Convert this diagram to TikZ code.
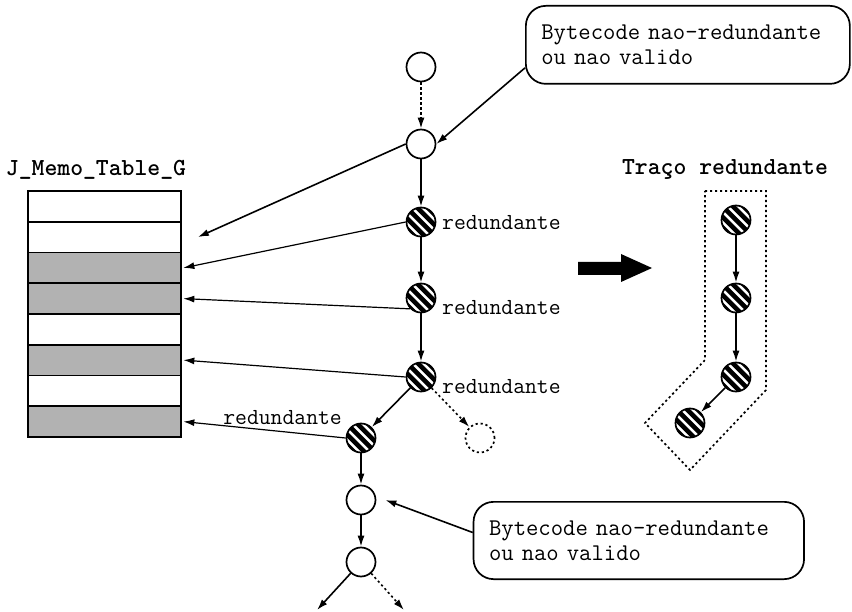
\documentclass[tikz,border=0pt]{standalone}
\usepackage{fontspec}
\usetikzlibrary{arrows.meta}

\tikzset{
  basenode/.style={circle, draw, line width=1.7pt, minimum size=29pt, inner sep=0pt},
  plainnode/.style={basenode, fill=white},
  ghostnode/.style={basenode, dash pattern=on 2.2pt off 2.8pt},
  hatchnode/.style={basenode, fill=white, path picture={
      \foreach \k in {-31.5,-21,...,31.5}
        \draw[line width=4.6pt]
          ([shift={(\k-22,-22)}]path picture bounding box.center) -- ++(44,44);
    }},
  tip/.style={-{Latex[length=11pt,width=7pt]}},
  flow/.style={tip, line width=1.6pt},
  maybe/.style={tip, line width=1.6pt, dash pattern=on 2.2pt off 2.8pt},
  tolink/.style={tip, line width=1.2pt},
  rowbox/.style={draw, line width=1.7pt, minimum width=153pt, minimum height=30.75pt,
                 inner sep=0pt, fill=white},
  hitrow/.style={rowbox, fill=black!30},
  callout/.style={draw, line width=1.7pt, rounded corners=20pt, align=left,
                  font=\ttfamily\fontsize{24}{24.5}\selectfont, inner xsep=15.5pt},
  tag/.style={font=\ttfamily\fontsize{23}{24}\selectfont, inner sep=0pt},
  heading/.style={font=\ttfamily\bfseries\fontsize{24.5}{26}\selectfont, inner sep=0pt},
  fence/.style={line width=1.7pt, dash pattern=on 2.2pt off 2.8pt},
}

\begin{document}
\begin{tikzpicture}[x=1pt, y=-1pt]
\useasboundingbox (0,0) rectangle (852,612);

% memo table
\node[heading] (title) at (96,170) {J\_Memo\_Table\_G};
\node[rowbox] (r1) at (104.5,206.4) {};
\node[rowbox] (r2) at (104.5,237.1) {};
\node[hitrow] (r3) at (104.5,267.9) {};
\node[hitrow] (r4) at (104.5,298.6) {};
\node[rowbox] (r5) at (104.5,329.4) {};
\node[hitrow] (r6) at (104.5,360.1) {};
\node[rowbox] (r7) at (104.5,390.9) {};
\node[hitrow] (r8) at (104.5,421.6) {};

% execution trace
\node[plainnode] (c0) at (421,67) {};
\node[plainnode] (c1) at (421,144) {};
\node[hatchnode] (h1) at (421,222) {};
\node[hatchnode] (h2) at (421,298) {};
\node[hatchnode] (h3) at (421,377) {};
\node[hatchnode] (h4) at (361,438) {};
\node[ghostnode] (g1) at (480,438) {};
\node[plainnode] (c2) at (361,500) {};
\node[plainnode] (c3) at (361,562) {};
\coordinate (e1) at (317,610);
\coordinate (e2) at (404,610);

\node[tag, anchor=west] (l1) at (442,223) {redundante};
\node[tag, anchor=west] (l2) at (442,308) {redundante};
\node[tag, anchor=west] (l3) at (442,387) {redundante};
\node[tag, anchor=east] (l4) at (342,418) {redundante};

\draw[maybe] (c0) -- (c1);
\draw[flow] (c1) -- (h1);
\draw[flow] (h1) -- (h2);
\draw[flow] (h2) -- (h3);
\draw[flow] (h3) -- (h4);
\draw[maybe] (h3) -- (g1);
\draw[flow] (h4) -- (c2);
\draw[flow] (c2) -- (c3);
\draw[flow] (c3) -- (e1);
\draw[maybe] (c3) -- (e2);

% links into the table
\coordinate (t2) at ([xshift=16pt]r2.east);
\draw[flow] (c1.west) -- (t2);
\draw[tolink] (h1.west) -- ([xshift=1.5pt]r3.east);
\draw[tolink] (h2.south west) -- ([xshift=1.5pt]r4.east);
\draw[tolink] (h3.west) -- ([xshift=1.5pt]r6.east);
\draw[tolink] (h4.west) -- ([xshift=1.5pt]r8.east);

% callouts
\node[callout, minimum width=324pt, minimum height=78pt, text width=293pt,
      anchor=north west] (b1) at (525,5) {Bytecode nao-redundante\\ou nao valido};
\node[callout, minimum width=330.5pt, minimum height=77.3pt, text width=299.5pt,
      anchor=north west] (b2) at (472.7,501) {Bytecode nao-redundante\\ou nao valido};
\draw[flow] ([yshift=-23pt]b1.west) -- (c1.east);
\coordinate (p2) at ([xshift=9pt]c2.east);
\draw[flow] ([yshift=8pt]b2.west) -- (p2);

% big arrow
\fill (578,262) -- (621,262) -- (621,254) -- (652,268) -- (621,282) -- (621,275)
      -- (578,275) -- cycle;

% extracted redundant trace
\node[heading] (title2) at (725,170) {Traço redundante};
\node[hatchnode] (a1) at (736,220) {};
\node[hatchnode] (a2) at (736,298) {};
\node[hatchnode] (a3) at (736,377) {};
\node[hatchnode] (a4) at (690,423) {};
\draw[flow] (a1) -- (a2);
\draw[flow] (a2) -- (a3);
\draw[flow] (a3) -- (a4);
\draw[fence] (705,191) -- (766,191) -- (766,390) -- (690,470) -- (645,423)
      -- (705,360) -- cycle;
\end{tikzpicture}
\end{document}
